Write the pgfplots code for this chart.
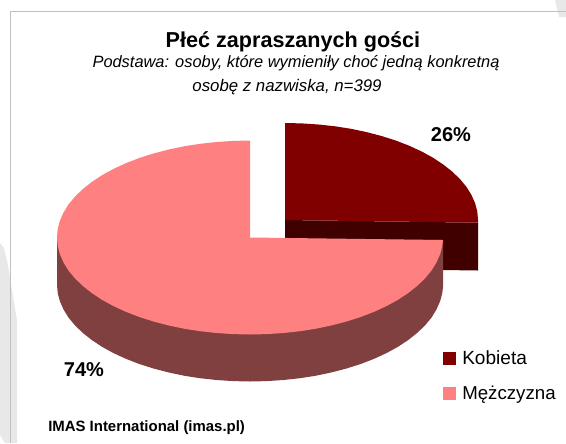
\documentclass[border=0pt]{standalone}
\usepackage{pgfplots}
\pgfplotsset{compat=1.18}
\usepackage{fontspec}
\setmainfont{Liberation Sans}
\definecolor{pinktop}{HTML}{FF8080}
\definecolor{pinkwall}{HTML}{804040}
\definecolor{redtop}{HTML}{800000}
\definecolor{redwall}{HTML}{400000}
\definecolor{framecol}{HTML}{C0C0C0}
\definecolor{bgshape}{HTML}{E8E8E8}
\begin{document}
\begin{tikzpicture}
\begin{axis}[
  scale only axis, width=424.5pt, height=332.25pt,
  xmin=0, xmax=566, ymin=0, ymax=443, y dir=reverse,
  hide axis, clip=true,
]
% background shapes
\addplot[fill=bgshape, draw=none] coordinates {(0,243)(4,248)(8,265)(12,290)(17,320)(17,443)(5,443)(0,435)} -- cycle;
\addplot[fill=bgshape, draw=none] coordinates {(555,0)(559,17)(566,17)(566,0)} -- cycle;
% frame
\addplot[draw=framecol, line width=1.2pt] coordinates {(566,11.5)(10.5,11.5)(10.5,443)};
% Kobieta 26%: cut wall and top
\addplot[fill=redwall, draw=none] coordinates {(285,220)(478,222.7)(478,270.5)(285,267.8)} -- cycle;
\addplot[fill=redtop, draw=none] coordinates {(285,220)(285,123)(301.8,123.4)(318.5,124.5)(335,126.3)(351,128.8)(366.6,132.1)(381.5,136)(395.7,140.5)(409.1,145.7)(421.5,151.4)(432.8,157.6)(443.1,164.4)(452.1,171.5)(459.9,179)(466.4,186.8)(471.4,194.9)(475.1,203.2)(477.3,211.5)(478,220)(478,222.7)} -- cycle;
% Mezczyzna 74%: outer wall
\addplot[fill=pinkwall, draw=none] coordinates {(57,237.5)(57,284.5)(57.7,293)(59.9,301.3)(63.6,309.6)(68.6,317.7)(75.1,325.5)(82.9,333)(91.9,340.1)(102.2,346.9)(113.5,353.1)(125.9,358.8)(139.3,364)(153.5,368.5)(168.4,372.4)(184,375.7)(200,378.2)(216.5,380)(233.2,381.1)(250,381.5)(266.8,381.1)(283.5,380)(300,378.2)(316,375.7)(331.6,372.4)(346.5,368.5)(360.7,364)(374.1,358.8)(386.5,353.1)(397.8,346.9)(408.1,340.1)(417.1,333)(424.9,325.5)(431.4,317.7)(436.4,309.6)(440.1,301.3)(442.3,293)(443,287)(443,240)} -- cycle;
% Mezczyzna top
\addplot[fill=pinktop, draw=none] coordinates {(250,237.5)(250,140.5)(233.2,140.9)(216.5,142)(200,143.8)(184,146.3)(168.4,149.6)(153.5,153.5)(139.3,158)(125.9,163.2)(113.5,168.9)(102.2,175.1)(91.9,181.9)(82.9,189)(75.1,196.5)(68.6,204.3)(63.6,212.4)(59.9,220.7)(57.7,229)(57,237.5)(57.7,246)(59.9,254.3)(63.6,262.6)(68.6,270.7)(75.1,278.5)(82.9,286)(91.9,293.1)(102.2,299.9)(113.5,306.1)(125.9,311.8)(139.3,317)(153.5,321.5)(168.4,325.4)(184,328.7)(200,331.2)(216.5,333)(233.2,334.1)(250,334.5)(266.8,334.1)(283.5,333)(300,331.2)(316,328.7)(331.6,325.4)(346.5,321.5)(360.7,317)(374.1,311.8)(386.5,306.1)(397.8,299.9)(408.1,293.1)(417.1,286)(424.9,278.5)(431.4,270.7)(436.4,262.6)(440.1,254.3)(442.3,246)(443,240)} -- cycle;
% legend keys
\addplot[fill=redtop, draw=none] coordinates {(443,352)(456,352)(456,365)(443,365)} -- cycle;
\addplot[fill=pinktop, draw=none] coordinates {(443,387)(456,387)(456,400)(443,400)} -- cycle;
% texts
\node[anchor=base, font=\fontsize{16.2pt}{18pt}\selectfont\bfseries] at (axis cs:293,47.5) {Płeć zapraszanych gości};
\node[anchor=base, font=\fontsize{12.3pt}{14pt}\selectfont\itshape] at (axis cs:296,67.5) {Podstawa: osoby, które wymieniły choć jedną konkretną};
\node[anchor=base, font=\fontsize{12.6pt}{14pt}\selectfont\itshape] at (axis cs:287,91.5) {osobę z nazwiska, n=399};
\node[anchor=base, font=\fontsize{15pt}{17pt}\selectfont\bfseries] at (axis cs:451,141.5) {26\%};
\node[anchor=base, font=\fontsize{15pt}{17pt}\selectfont\bfseries] at (axis cs:84,376.5) {74\%};
\node[anchor=base west, inner sep=0pt, font=\fontsize{14.3pt}{16pt}\selectfont] at (axis cs:462,364) {Kobieta};
\node[anchor=base west, inner sep=0pt, font=\fontsize{14pt}{16pt}\selectfont] at (axis cs:462,399) {Mężczyzna};
\node[anchor=base west, inner sep=0pt, font=\fontsize{11.2pt}{13pt}\selectfont\bfseries] at (axis cs:48,431) {IMAS International (imas.pl)};
\end{axis}
\end{tikzpicture}
\end{document}
